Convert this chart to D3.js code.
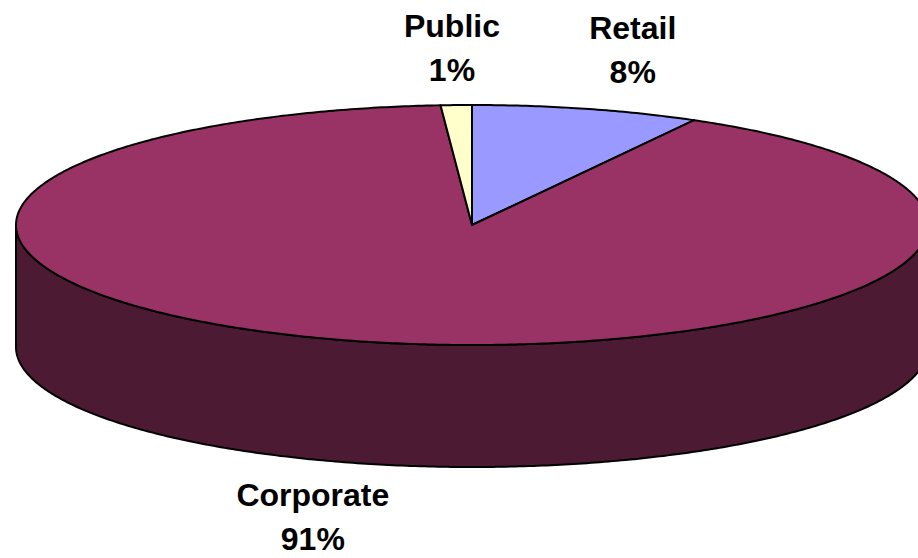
<!DOCTYPE html>
<html>
<head>
<meta charset="utf-8">
<script src="https://cdn.jsdelivr.net/npm/d3@7"></script>
<style>
  body { margin: 0; background: #fff; }
  .label { font-family: "Liberation Sans", Arial, sans-serif; font-weight: bold; font-size: 32px; fill: #000; }
</style>
</head>
<body>
<div id="chart"></div>
<script>
// DATA
var categories = ['Retail', 'Corporate', 'Public'];
var values     = [8.1, 90.8, 1.1];
var labelText  = ['8%', '91%', '1%'];

// LAYOUT
var WIDTH = 918, HEIGHT = 558;
var PIE = { CX: 472, CY: 225, RX: 456, RY: 120, DEPTH: 122 };
var topColours  = { Retail: '#9999FF', Corporate: '#993366', Public: '#FFFFCC' };
var sideColours = { Retail: '#4D4D80', Corporate: '#4D1A33', Public: '#808066' };
// label placement factors (x, y) relative to the ellipse radii
var labelK = { Retail: [1.40, 1.51], Corporate: [1.60, 1.45], Public: [1.27, 1.48] };

const svg = d3.select('#chart').append('svg')
  .attr('width', WIDTH)
  .attr('height', HEIGHT);

const pie = d3.pie().sort(null).value(d => d.value);
const arcs = pie(categories.map((c, i) => ({ name: c, value: values[i], label: labelText[i] })));

function pt(a, dy) {
  return [PIE.CX + PIE.RX * Math.sin(a), PIE.CY - PIE.RY * Math.cos(a) + (dy || 0)];
}

function arcPoints(a0, a1, dy) {
  var n = Math.max(2, Math.ceil(Math.abs(a1 - a0) / 0.01));
  return d3.range(n + 1).map(i => pt(a0 + (a1 - a0) * i / n, dy));
}

// SIDE (front half only: angles PI/2 .. 3PI/2)
const gSide = svg.append('g');
arcs.forEach(d => {
  var a0 = Math.max(d.startAngle, Math.PI / 2);
  var a1 = Math.min(d.endAngle, Math.PI * 1.5);
  if (a1 <= a0) return;
  var topEdge = arcPoints(a0, a1, 0);
  var botEdge = arcPoints(a1, a0, PIE.DEPTH);
  gSide.append('path')
    .attr('d', d3.line()(topEdge.concat(botEdge)) + 'Z')
    .attr('fill', sideColours[d.data.name])
    .attr('stroke', '#000')
    .attr('stroke-width', 2)
    .attr('stroke-linejoin', 'round');
});

// TOP
const gTop = svg.append('g');
arcs.forEach(d => {
  var p = [[PIE.CX, PIE.CY]].concat(arcPoints(d.startAngle, d.endAngle, 0));
  gTop.append('path')
    .attr('d', d3.line()(p) + 'Z')
    .attr('fill', topColours[d.data.name])
    .attr('stroke', '#000')
    .attr('stroke-width', 2)
    .attr('stroke-linejoin', 'round');
});

// LABELS
const gLabels = svg.append('g');
arcs.forEach(d => {
  var m = (d.startAngle + d.endAngle) / 2;
  var k = labelK[d.data.name];
  var x = PIE.CX + PIE.RX * k[0] * Math.sin(m);
  var y = PIE.CY - PIE.RY * k[1] * Math.cos(m) + (Math.cos(m) < 0 ? PIE.DEPTH : 0);
  var t = gLabels.append('text')
    .attr('class', 'label')
    .attr('text-anchor', 'middle')
    .attr('x', x)
    .attr('y', y);
  t.append('tspan').attr('x', x).attr('dy', -11).text(d.data.name);
  t.append('tspan').attr('x', x).attr('dy', 44).text(d.data.label);
});
</script>
</body>
</html>
